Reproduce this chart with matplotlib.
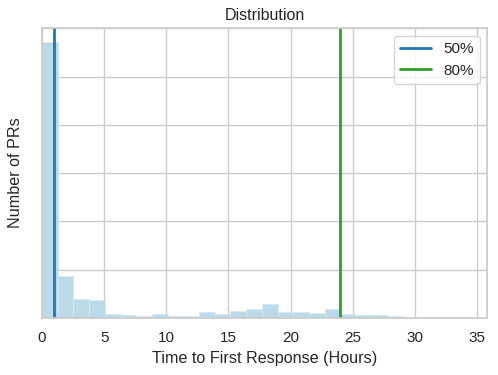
import numpy as np
import matplotlib
matplotlib.use("Agg")
import matplotlib.pyplot as plt
import seaborn as sns

# histogram counts per bin (bin width ~1.263 h, starting at 0)
bin_width = 1.263
counts = [286, 44, 20, 19, 4, 3, 2, 4, 2, 2, 6, 4, 7, 9, 15, 6,
          6, 5, 9, 4, 3, 3, 2, 0, 0, 1, 0]
p50 = 0.95
p80 = 24.0

sns.set_theme(style="whitegrid", context="notebook")
plt.rcParams['font.family'] = ['Liberation Sans', 'DejaVu Sans']

edges = np.arange(len(counts) + 1) * bin_width
centers = edges[:-1] + bin_width / 2

fig = plt.figure(figsize=(4.98, 3.75), dpi=100)
ax = fig.add_axes([0.0843, 0.152, 0.894, 0.773])

ax.hist(centers, bins=edges, weights=counts, color='#bcdbea',
        edgecolor='#d6e8f1', linewidth=0.5)
ax.axvline(p50, color='#1f77b4', linewidth=2, label='50%')
ax.axvline(p80, color='#2ca02c', linewidth=2, label='80%')

ax.set_xlim(0, edges[-1] * 1.05)
ax.set_xticks([0, 5, 10, 15, 20, 25, 30, 35])
ax.set_yticklabels([])
ax.set_title('Distribution', fontsize=11.5)
ax.set_xlabel('Time to First Response (Hours)', fontsize=11.6)
ax.set_ylabel('Number of PRs', fontsize=11.6)
ax.legend(loc='upper right')

plt.savefig('out.png', dpi=100)
